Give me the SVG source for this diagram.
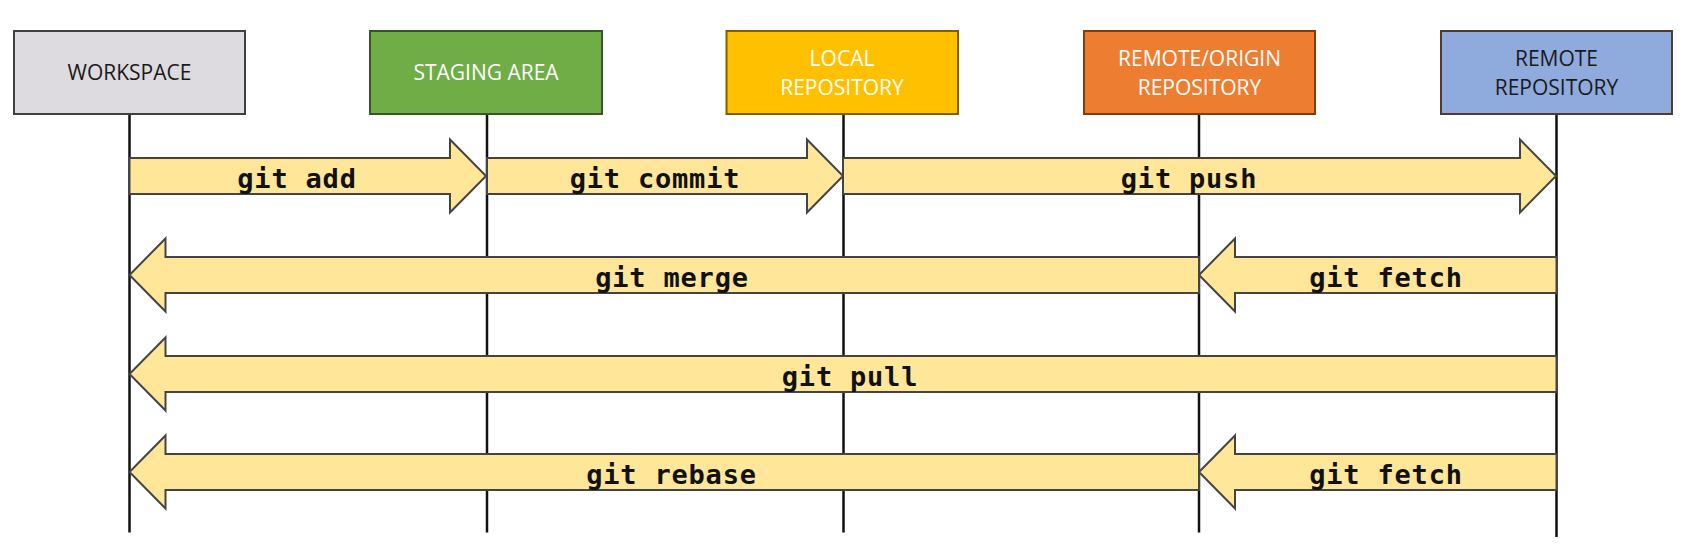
<svg xmlns="http://www.w3.org/2000/svg" width="1683" height="555" viewBox="0 0 1683 555">
<style>
.box{stroke-width:2}
.bt{font-family:"Open Sans","Noto Sans","DejaVu Sans",sans-serif;font-size:21px;text-anchor:middle}
.life{stroke:#111;stroke-width:2.5;fill:none}
.arr{fill:#FFE699;stroke:#444;stroke-width:2;stroke-linejoin:miter}
.lbl{font-family:"DejaVu Sans Mono","Liberation Mono",monospace;font-weight:bold;font-size:27px;letter-spacing:0.8px;text-anchor:middle;fill:#111}
</style>
<rect width="1683" height="555" fill="#fff"/>
<g id="lifelines">
<line class="life" x1="129.5" y1="114" x2="129.5" y2="532.5"/>
<line class="life" x1="487" y1="114" x2="487" y2="532.5"/>
<line class="life" x1="843.5" y1="114" x2="843.5" y2="532.5"/>
<line class="life" x1="1199" y1="114" x2="1199" y2="532.5"/>
<line class="life" x1="1556.5" y1="114" x2="1556.5" y2="537"/>
</g>
<g id="workspace">
<rect class="box" x="14" y="31" width="231" height="83" fill="#DDDBDF" stroke="#404040"/>
<text class="bt" x="129.5" y="80" fill="#1a1a1a">WORKSPACE</text>
</g>
<g id="staging">
<rect class="box" x="370" y="31" width="232" height="83" fill="#70AD47" stroke="#375623"/>
<text class="bt" x="486" y="80" fill="#fff">STAGING AREA</text>
</g>
<g id="local">
<rect class="box" x="726.5" y="31" width="231.5" height="83" fill="#FFC000" stroke="#7F6000"/>
<text class="bt" x="842" y="66" fill="#fff">LOCAL</text>
<text class="bt" x="842" y="95.3" fill="#fff">REPOSITORY</text>
</g>
<g id="origin">
<rect class="box" x="1084" y="31" width="231" height="83" fill="#ED7D31" stroke="#843C0C"/>
<text class="bt" x="1199.5" y="66" fill="#fff">REMOTE/ORIGIN</text>
<text class="bt" x="1199.5" y="95.3" fill="#fff">REPOSITORY</text>
</g>
<g id="remote">
<rect class="box" x="1441" y="31" width="231" height="83" fill="#8FAADC" stroke="#4F3B30"/>
<text class="bt" x="1556.5" y="66" fill="#1a1a1a">REMOTE</text>
<text class="bt" x="1556.5" y="95.3" fill="#1a1a1a">REPOSITORY</text>
</g>
<g id="connectors">
<polygon class="arr" points="129.5,158 450,158 450,139.5 486,176 450,212.5 450,194 129.5,194"/>
<polygon class="arr" points="487,158 807,158 807,139.5 843,176 807,212.5 807,194 487,194"/>
<polygon class="arr" points="843,158 1520,158 1520,139.5 1556,176 1520,212.5 1520,194 843,194"/>
<polygon class="arr" points="1199,257 165.5,257 165.5,238.5 129.5,275 165.5,311.5 165.5,293 1199,293"/>
<polygon class="arr" points="1556.5,257 1235,257 1235,238.5 1199,275 1235,311.5 1235,293 1556.5,293"/>
<polygon class="arr" points="1556.5,356 165.5,356 165.5,337.5 129.5,374 165.5,410.5 165.5,392 1556.5,392"/>
<polygon class="arr" points="1199,454 165.5,454 165.5,435.5 129.5,472 165.5,508.5 165.5,490 1199,490"/>
<polygon class="arr" points="1556.5,454 1235,454 1235,435.5 1199,472 1235,508.5 1235,490 1556.5,490"/>
<text class="lbl" x="297" y="187.5">git add</text>
<text class="lbl" x="655" y="187.5">git commit</text>
<text class="lbl" x="1189" y="187.5">git push</text>
<text class="lbl" x="672" y="286.5">git merge</text>
<text class="lbl" x="1386" y="286.5">git fetch</text>
<text class="lbl" x="850" y="385.5">git pull</text>
<text class="lbl" x="671.5" y="483.5">git rebase</text>
<text class="lbl" x="1386" y="483.5">git fetch</text>
</g>
</svg>
